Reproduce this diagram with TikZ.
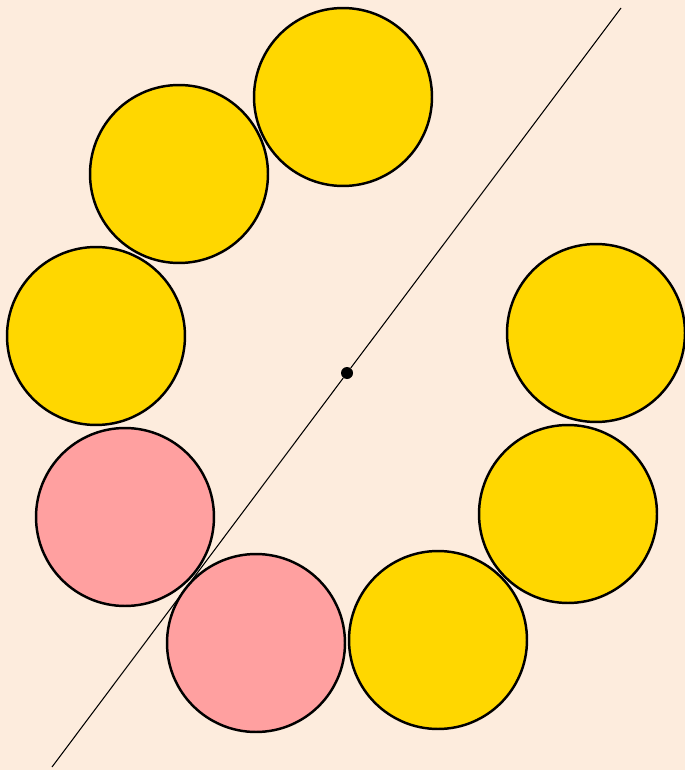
\documentclass[tikz,border=0pt]{standalone}
\usetikzlibrary{backgrounds}
\definecolor{ringBack}{HTML}{FDECDD}
\definecolor{ringGold}{HTML}{FFD700}
\definecolor{ringPink}{HTML}{FFA0A0}

\begin{document}
\begin{tikzpicture}[
    x=0.02cm, y=-0.02cm,
    disc/.style={
        circle, draw=black, line width=1.4pt, fill=ringGold,
        minimum size=3.56cm, inner sep=0pt
    },
    pinkdisc/.style={disc, fill=ringPink},
    axisline/.style={line width=0.6pt, draw=black},
    centredot/.style={circle, fill=black, minimum size=0.24cm, inner sep=0pt},
]

% frame
\fill[ringBack] (0,0) rectangle (685,770);
\useasboundingbox (0,0) rectangle (685,770);

% ring of discs
\node[disc]     (d1) at (343,97)  {};
\node[disc]     (d2) at (179,174) {};
\node[disc]     (d3) at (96,336)  {};
\node[pinkdisc] (d4) at (125,517) {};
\node[pinkdisc] (d5) at (256,643) {};
\node[disc]     (d6) at (438,640) {};
\node[disc]     (d7) at (568,514) {};
\node[disc]     (d8) at (596,333) {};

% symmetry line through the centre
\coordinate (lineLow)  at (52,767);
\coordinate (lineHigh) at (621,8);
\node[centredot] (centre) at (347,373) {};
\draw[axisline] (lineLow) -- (centre) -- (lineHigh);

\end{tikzpicture}
\end{document}
